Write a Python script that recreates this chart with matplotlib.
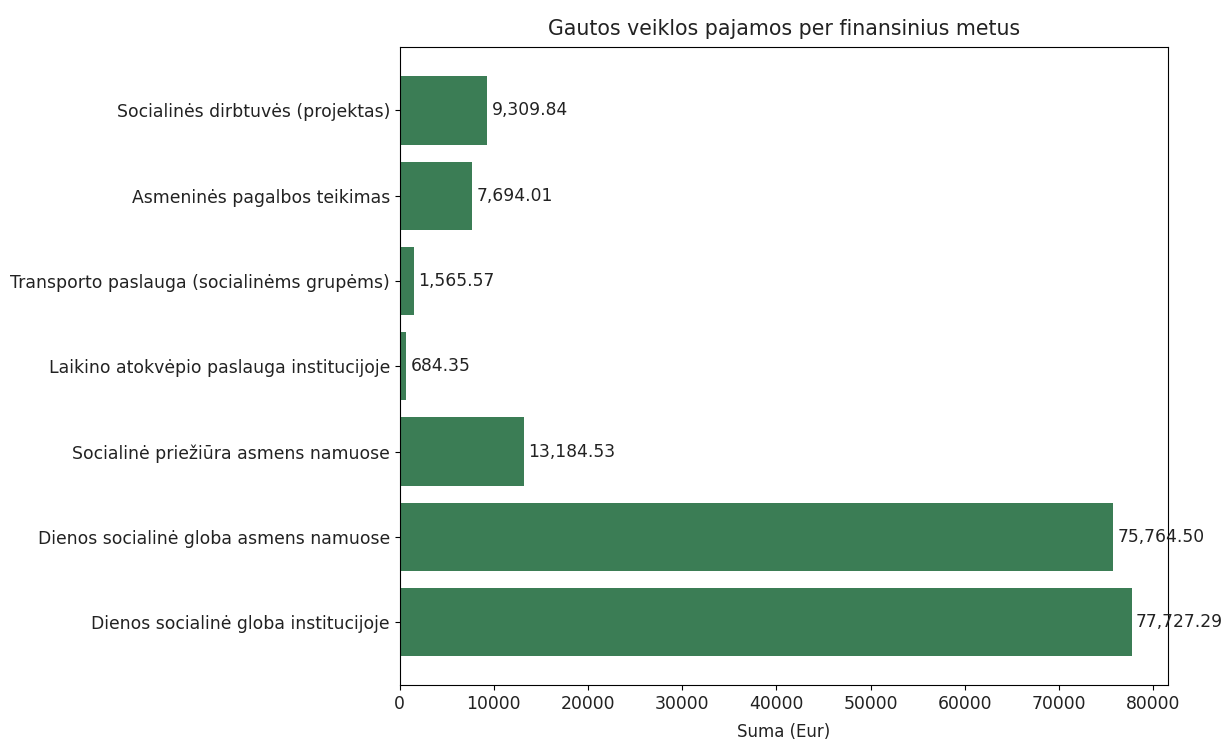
import matplotlib
matplotlib.use("Agg")
import matplotlib.pyplot as plt

# Veiklos pajamos (Eur)
categories = [
    "Dienos socialinė globa institucijoje",
    "Dienos socialinė globa asmens namuose",
    "Socialinė priežiūra asmens namuose",
    "Laikino atokvėpio paslauga institucijoje",
    "Transporto paslauga (socialinėms grupėms)",
    "Asmeninės pagalbos teikimas",
    "Socialinės dirbtuvės (projektas)",
]
amounts = [77727.29, 75764.50, 13184.53, 684.35, 1565.57, 7694.01, 9309.84]

plt.rcParams["text.color"] = "#222222"
plt.rcParams["axes.labelcolor"] = "#222222"
plt.rcParams["xtick.labelcolor"] = "#222222"
plt.rcParams["ytick.labelcolor"] = "#222222"

fig = plt.figure(figsize=(12.26, 7.4), dpi=100)
ax = fig.add_axes([0.326, 0.074, 0.627, 0.862])

bars = ax.barh(categories, amounts, color="#3b7d55")
ax.bar_label(bars, labels=[f"{v:,.2f}" for v in amounts], padding=3, fontsize=12.3)

ax.set_title("Gautos veiklos pajamos per finansinius metus", fontsize=14.8, pad=9)
ax.set_xlabel("Suma (Eur)", fontsize=12, labelpad=7)
ax.tick_params(axis="both", labelsize=12.4)

fig.savefig("out.png", dpi=100)
